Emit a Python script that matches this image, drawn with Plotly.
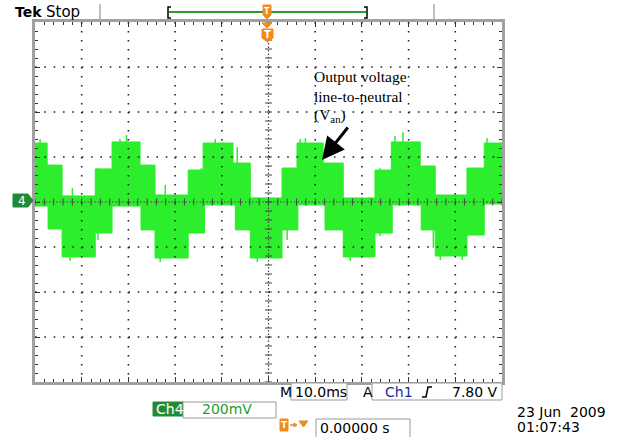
import plotly.graph_objects as go
import numpy as np

# ---------------- data (10 ms/div, 200 mV/div) ----------------
# upper / lower envelope of the Ch4 trace (time in ms, level in mV), step breakpoints
upper_t = [-50, -47.4, -44.2, -37.1, -33.5, -27.5, -24.3, -17.2, -14.0, -7.6, -3.9,
           2.9, 6.1, 11.7, 16.0, 22.8, 26.3, 32.5, 35.7, 42.5, 46.2, 50]
upper_v = [262, 164, 27, 147, 267, 164, 31, 142, 262, 173, 18,
           151, 262, 173, 18, 142, 267, 160, 31, 151, 262, 262]
lower_t = [-50, -47.2, -44.2, -37.1, -33.5, -27.3, -24.3, -17.2, -13.7, -7.1, -3.9,
           2.9, 6.3, 12.1, 16.0, 22.8, 26.5, 32.7, 35.7, 42.5, 46.2, 50]
lower_v = [-18, -120, -244, -138, -18, -124, -249, -138, -13, -124, -249,
           -124, -13, -124, -244, -138, -13, -124, -240, -147, -9, -9]

# isolated switching spikes sticking out of the band
spike_t = [-30.4, 28.8, -6.7, -14.4, -36.5, 4.0, 23.9, 35.3, -2.4, 41.5, 7.9, -11.4, -48.9, -42.0, -22.1,
           6.8, 27.1, 46.8, -31.8, -23.2, 17.5, 36.8, -42.5]
spike_hi = [298, 311, 244, 150, 150, 150, 150, 20, 20, 20, 284, 280, 280, 62, 76,
            280, 293, 284, 280, 0, 0, 0, 0]
spike_lo = [250, 250, 150, -133, -169, -169, -151, -204, -267, -258, 200, 200, 200, -100, -100,
            200, 200, 200, 200, -267, -262, -258, -262]

# readouts
timebase = "10.0ms"
ch_scale = "200mV"
trig_src = "Ch1"
trig_level = "7.80 V"
trig_pos = "0.00000 s"
date_str = "23 Jun\u00a0\u00a02009"
time_str = "01:07:43"

W, H = 619, 437
L, T, PW, PH = 35, 22, 467, 360
R, B = W - L - PW, H - T - PH

TRACE = "#2cee2c"
ORANGE = "#f28a1e"
DKGREEN = "#1f8c34"

def PX(x):
    return (x - L) / PW

def PY(y):
    return (T + PH - y) / PH

fig = go.Figure()

# signal band
fig.add_trace(go.Scatter(x=upper_t, y=upper_v, mode="lines", line=dict(color=TRACE, width=1, shape="hv"),
                         hoverinfo="skip", showlegend=False))
fig.add_trace(go.Scatter(x=lower_t, y=lower_v, mode="lines", line=dict(color=TRACE, width=1, shape="hv"),
                         fill="tonexty", fillcolor=TRACE, hoverinfo="skip", showlegend=False))
sx, sy = [], []
for t, hi, lo in zip(spike_t, spike_hi, spike_lo):
    sx += [t, t, None]
    sy += [lo, hi, None]
fig.add_trace(go.Scatter(x=sx, y=sy, mode="lines", line=dict(color=TRACE, width=1.5),
                         hoverinfo="skip", showlegend=False))

# graticule tick marks on centre cross
ct = np.arange(-50, 50.1, 2)
fig.add_trace(go.Scatter(x=ct, y=np.zeros_like(ct), mode="markers",
                         marker=dict(symbol="line-ns", size=5, line=dict(width=1, color="#444")),
                         hoverinfo="skip", showlegend=False))
cv = np.arange(-800, 800.1, 40)
fig.add_trace(go.Scatter(x=np.zeros_like(cv), y=cv, mode="markers",
                         marker=dict(symbol="line-ew", size=5, line=dict(width=1, color="#444")),
                         hoverinfo="skip", showlegend=False))

shapes = []
# dotted grid, above trace
for t in range(-40, 41, 10):
    if t == 0:
        continue
    shapes.append(dict(type="line", xref="x", yref="y", x0=t, x1=t, y0=800, y1=-800,
                       line=dict(color="#222", width=1.6, dash="1.6px,7.4px"), layer="above"))
for v in range(-600, 601, 200):
    if v == 0:
        continue
    shapes.append(dict(type="line", xref="x", yref="y", x0=-50, x1=50, y0=v, y1=v,
                       line=dict(color="#222", width=1.6, dash="1.6px,7.74px"), layer="above"))
shapes.append(dict(type="line", xref="x", yref="y", x0=0, x1=0, y0=800, y1=-800,
                   line=dict(color="#444", width=1.2, dash="1.5px,2px"), layer="above"))
shapes.append(dict(type="line", xref="x", yref="y", x0=-50, x1=50, y0=0, y1=0,
                   line=dict(color="#444", width=1.2, dash="1.5px,2px"), layer="above"))

def pline(x0, y0, x1, y1, color, width=1):
    shapes.append(dict(type="line", xref="paper", yref="paper", x0=PX(x0), y0=PY(y0), x1=PX(x1), y1=PY(y1),
                       line=dict(color=color, width=width), layer="above"))

def prect(x0, y0, x1, y1, fill, line="#999", width=1):
    shapes.append(dict(type="rect", xref="paper", yref="paper", x0=PX(x0), y0=PY(y0), x1=PX(x1), y1=PY(y1),
                       fillcolor=fill, line=dict(color=line, width=width), layer="above"))

def ppath(pts, fill=None, color="black", width=1, closed=True):
    d = "M " + " L ".join(f"{PX(x):.5f},{PY(y):.5f}" for x, y in pts) + (" Z" if closed else "")
    s = dict(type="path", xref="paper", yref="paper", path=d, line=dict(color=color, width=width), layer="above")
    if fill:
        s["fillcolor"] = fill
    shapes.append(s)

# top status bar
pline(100, 4, 100, 20, "#aaaaaa", 1.5)
pline(434, 4, 434, 20, "#aaaaaa", 1.5)
pline(169, 12, 366, 12, "#2a9e2a", 2)
ppath([(171, 7), (168, 7), (168, 18), (171, 18)], color="black", width=1.5, closed=False)
ppath([(364, 7), (367, 7), (367, 18), (364, 18)], color="black", width=1.5, closed=False)
ppath([(263, 5), (271, 5), (271, 15), (267, 19), (263, 15)], fill=ORANGE, color=ORANGE)
# trigger marker below top border
ppath([(262, 23), (272, 23), (267, 28)], fill=ORANGE, color=ORANGE)
ppath([(262, 29), (273, 29), (273, 38), (267.5, 42), (262, 38)], fill=ORANGE, color=ORANGE)
# channel 4 ground tag
ppath([(13, 194), (28, 194), (33, 200.5), (28, 207), (13, 207)], fill=DKGREEN, color=DKGREEN)

# bottom readouts
prect(291, 383, 347, 400, "white")
prect(372, 383, 502, 400, "white")
ppath([(422, 397), (426, 397), (428, 387), (432, 387)], color="black", width=1.5, closed=False)
prect(153, 402, 183, 416, DKGREEN, line=DKGREEN)
prect(183, 402, 276, 418, "white")
ppath([(280, 419), (288, 419), (288, 431), (280, 431)], fill=ORANGE, color=ORANGE)
pline(290, 425, 296, 425, ORANGE, 1.5)
ppath([(294, 423), (297, 425), (294, 427)], fill=ORANGE, color=ORANGE)
ppath([(299, 421), (308, 421), (303.5, 427)], fill=ORANGE, color=ORANGE)
prect(316, 419, 410, 440, "white")

ann = []
def txt(x, y, s, size=14, color="black", anchor="left", family="DejaVu Sans"):
    ann.append(dict(x=PX(x), y=PY(y), xref="paper", yref="paper", text=s, showarrow=False,
                    xanchor=anchor, yanchor="middle", font=dict(family=family, size=size, color=color)))

txt(13, 12, "<b>Tek</b>", 14)
txt(44, 12, "Stop", 15)
txt(267, 11, "<b>T</b>", 8, "white", "center")
txt(267.5, 35, "<b>T</b>", 10, "white", "center")
txt(21.5, 200.5, "4", 12, "white", "center")
txt(278, 392, "M", 14)
txt(293, 392, timebase, 14)
txt(361, 392, "A", 14)
txt(383, 392, trig_src, 14, "#1c2c9c")
txt(500, 392, trig_level, 14, anchor="right")
txt(154, 409, "Ch4", 14, "white")
txt(200, 409, ch_scale, 14, "#1e9e2e")
txt(284, 425, "<b>T</b>", 9, "white", "center")
txt(318, 428, trig_pos, 14)
txt(515, 412, date_str, 14)
txt(515, 427, time_str, 14)

# annotation text (serif)
txt(312, 76, "Output voltage", 15.5, family="Liberation Serif")
txt(312, 96, "line-to-neutral", 15.5, family="Liberation Serif")
txt(312, 116, "(V<sub>an</sub>)", 15.5, family="Liberation Serif")
ann.append(dict(x=PX(322), y=PY(160), xref="paper", yref="paper", ax=27, ay=-34, text="",
                showarrow=True, arrowhead=2, arrowsize=1.5, arrowwidth=3, arrowcolor="black", standoff=0))

fig.update_layout(
    width=W, height=H, margin=dict(l=L, r=R, t=T, b=B, pad=0),
    paper_bgcolor="white", plot_bgcolor="white",
    shapes=shapes, annotations=ann, showlegend=False,
    xaxis=dict(range=[-50, 50], showgrid=False, zeroline=False, showticklabels=False,
               showline=True, linecolor="#a0a0a0", linewidth=3, mirror="ticks",
               ticks="inside", tick0=0, dtick=10, ticklen=5, tickcolor="#333", tickwidth=1,
               minor=dict(dtick=2, ticks="inside", ticklen=3, tickcolor="#333", showgrid=False),
               fixedrange=True),
    yaxis=dict(range=[-800, 800], showgrid=False, zeroline=False, showticklabels=False,
               showline=True, linecolor="#a0a0a0", linewidth=3, mirror="ticks",
               ticks="inside", tick0=0, dtick=200, ticklen=5, tickcolor="#333", tickwidth=1,
               minor=dict(dtick=40, ticks="inside", ticklen=3, tickcolor="#333", showgrid=False),
               fixedrange=True),
)

fig.write_html("out.html", config={"displayModeBar": False})
